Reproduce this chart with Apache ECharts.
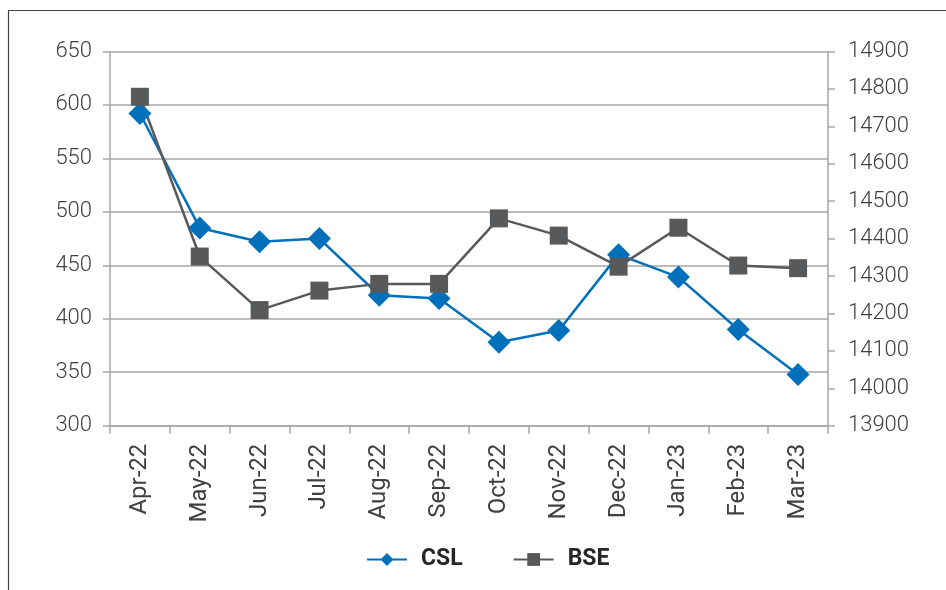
<!DOCTYPE html>
<html>
<head>
<meta charset="utf-8">
<script src="https://cdn.jsdelivr.net/npm/echarts@6/dist/echarts.min.js"></script>
<style>
html,body{margin:0;padding:0;background:#fff;}
#chart{width:946px;height:590px;}
</style>
</head>
<body>
<div id="chart"></div>
<script>
const categories = ['Apr-22','May-22','Jun-22','Jul-22','Aug-22','Sep-22','Oct-22','Nov-22','Dec-22','Jan-23','Feb-23','Mar-23'];
const cslValues = [592, 485, 472, 475, 422, 419, 378, 389, 460, 439, 390, 348];
const bseValues = [14779, 14352, 14209, 14261, 14279, 14279, 14454, 14408, 14325, 14429, 14328, 14321];

const chart = echarts.init(document.getElementById('chart'), null, {renderer: 'canvas'});
const gridColor = '#a6a6a6';
const labelFont = {fontFamily: 'Roboto', fontWeight: 300, fontSize: 22, color: '#404040'};

chart.setOption({
  animation: false,
  backgroundColor: '#fff',
  graphic: [{
    type: 'rect',
    shape: {x: 8.5, y: 10.5, width: 1200, height: 1200},
    style: {fill: 'none', stroke: '#444', lineWidth: 1.2},
    z: 100
  }],
  grid: {left: 110, right: 118, top: 51.5, bottom: 164.3},
  legend: {
    data: ['CSL', 'BSE'],
    top: 543,
    left: 361,
    itemWidth: 40,
    itemHeight: 16,
    itemGap: 50,
    formatter: '{t|{name}}',
    textStyle: {
      fontFamily: 'Roboto', fontWeight: 'bold', fontSize: 23, color: '#262626',
      rich: {t: {fontFamily: 'Roboto', fontWeight: 'bold', fontSize: 23, color: '#262626', padding: [0, 0, 0, 9]}}
    }
  },
  xAxis: {
    type: 'category',
    data: categories,
    boundaryGap: true,
    axisLine: {lineStyle: {color: gridColor, width: 1.5}},
    axisTick: {show: true, length: 8, alignWithLabel: false, lineStyle: {color: gridColor, width: 1.5}},
    axisLabel: {rotate: 90, margin: 18, interval: 0, fontFamily: 'Roboto', fontWeight: 400, fontSize: 24, color: '#404040'}
  },
  yAxis: [{
    type: 'value',
    min: 300, max: 650, interval: 50,
    position: 'left',
    axisLine: {show: true, lineStyle: {color: gridColor, width: 1.5}},
    axisTick: {show: true, length: 7, lineStyle: {color: gridColor, width: 1.5}},
    splitLine: {show: true, lineStyle: {color: gridColor, width: 1.5}},
    axisLabel: Object.assign({margin: 18}, labelFont)
  }, {
    type: 'value',
    min: 13900, max: 14900, interval: 100,
    position: 'right',
    axisLine: {show: true, lineStyle: {color: gridColor, width: 1.5}},
    axisTick: {show: true, length: 7, lineStyle: {color: gridColor, width: 1.5}},
    splitLine: {show: false},
    axisLabel: Object.assign({margin: 20, formatter: function (v) { return String(v); }}, labelFont)
  }],
  series: [{
    name: 'CSL',
    type: 'line',
    yAxisIndex: 0,
    data: cslValues,
    symbol: 'diamond',
    symbolSize: 23,
    color: '#0070ba',
    lineStyle: {color: '#0070ba', width: 2.5},
    itemStyle: {color: '#0070ba'}
  }, {
    name: 'BSE',
    type: 'line',
    yAxisIndex: 1,
    data: bseValues,
    symbol: 'rect',
    symbolSize: 18,
    color: '#58595b',
    lineStyle: {color: '#58595b', width: 2.5},
    itemStyle: {color: '#58595b'}
  }]
});
</script>
</body>
</html>
